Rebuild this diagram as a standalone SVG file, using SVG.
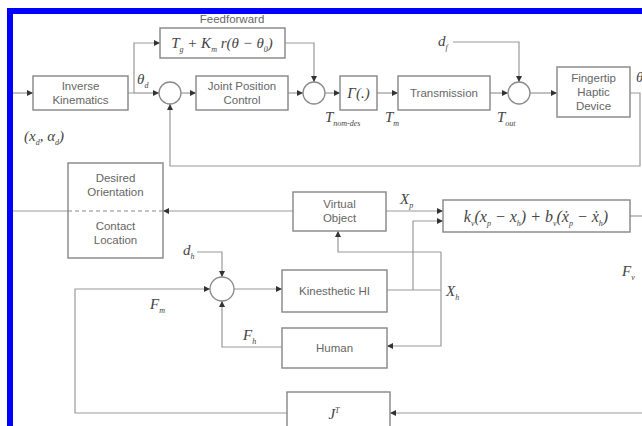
<svg xmlns="http://www.w3.org/2000/svg" width="642" height="426" viewBox="0 0 642 426">
<defs>
<marker id="ar" markerUnits="userSpaceOnUse" markerWidth="7" markerHeight="7" refX="6" refY="3" orient="auto">
<path d="M0,0 L6,3 L0,6 z" fill="#333"/>
</marker>
<style>
.box{fill:#fff;stroke:#858585;stroke-width:1.4}
.sum{fill:#fff;stroke:#8a8a8a;stroke-width:1.3}
.ln{fill:none;stroke:#999;stroke-width:1.2}
.la{fill:none;stroke:#999;stroke-width:1.2;marker-end:url(#ar)}
.t{font-family:"Liberation Sans",Arial,sans-serif;font-size:11.5px;fill:#666;text-anchor:middle}
.m{font-family:"Liberation Serif","Times New Roman",serif;font-style:italic;font-size:15px;fill:#444}
.s{font-size:8px}
</style>
</defs>
<rect width="642" height="426" fill="#fff"/>
<path d="M10,426 V11 H642" fill="none" stroke="#0000ff" stroke-width="6"/>

<g id="connectors">
<path class="la" d="M13,93 H33"/>
<path class="la" d="M128,93 H134 V43 H160"/>
<path class="la" d="M134,93 H159"/>
<path class="la" d="M181,93 H196"/>
<path class="la" d="M288,93 H303"/>
<path class="la" d="M285,43 H314 V82"/>
<path class="la" d="M325,93 H340"/>
<path class="la" d="M377,93 H398"/>
<path class="la" d="M490,93 H508"/>
<path class="la" d="M453,42 H519 V82"/>
<path class="la" d="M530,93 H557"/>
<path class="la" d="M630,93 H640 V166 H170 V104"/>
<path class="ln" d="M13,211 H68"/>
<path class="la" d="M293,211 H163"/>
<path class="la" d="M386,211 H443"/>
<path class="ln" d="M387,290 H441"/>
<path class="la" d="M413,290 V221 H443"/>
<path class="la" d="M441,252 V346 H387"/>
<path class="la" d="M441,252 H338 V231"/>
<path class="ln" d="M630,216 H642"/>
<path class="la" d="M642,413 H390"/>
<path class="la" d="M287,413 H75 V289 H210"/>
<path class="la" d="M234,289 H282"/>
<path class="la" d="M282,347 H222 V301"/>
<path class="la" d="M197,252 H222 V277"/>
</g>

<g id="inverse-kinematics">
<rect class="box" x="33" y="76" width="95" height="34"/>
<text class="t" x="80.5" y="90">Inverse</text>
<text class="t" x="80.5" y="104">Kinematics</text>
</g>
<g id="feedforward">
<text class="t" x="232" y="23">Feedforward</text>
<rect class="box" x="160" y="28" width="125" height="30"/>
<text class="m" x="222" y="48" text-anchor="middle">T<tspan class="s" dy="4">g</tspan><tspan dy="-4"> + K</tspan><tspan class="s" dy="4">m</tspan><tspan dy="-4"> r(θ − θ</tspan><tspan class="s" dy="4">0</tspan><tspan dy="-4">)</tspan></text>
</g>
<g id="sum1"><circle class="sum" cx="170" cy="93" r="11"/></g>
<g id="joint-position-control">
<rect class="box" x="196" y="76" width="92" height="34"/>
<text class="t" x="242" y="90">Joint Position</text>
<text class="t" x="242" y="104">Control</text>
</g>
<g id="sum2"><circle class="sum" cx="314" cy="93" r="11"/></g>
<g id="gamma">
<rect class="box" x="340" y="76" width="37" height="34"/>
<text class="m" x="358.5" y="98" text-anchor="middle">Γ(.)</text>
</g>
<g id="transmission">
<rect class="box" x="398" y="76" width="92" height="34"/>
<text class="t" x="444" y="97">Transmission</text>
</g>
<g id="sum3"><circle class="sum" cx="519" cy="93" r="11"/></g>
<g id="fingertip-haptic-device">
<rect class="box" x="557" y="67" width="73" height="50"/>
<text class="t" x="593.5" y="82">Fingertip</text>
<text class="t" x="593.5" y="96">Haptic</text>
<text class="t" x="593.5" y="110">Device</text>
</g>
<g id="desired-orientation-contact-location">
<rect class="box" x="68" y="163" width="95" height="95"/>
<path d="M68,211 H163" fill="none" stroke="#888" stroke-width="1.2" stroke-dasharray="4,3"/>
<text class="t" x="115.5" y="182">Desired</text>
<text class="t" x="115.5" y="196">Orientation</text>
<text class="t" x="115.5" y="230">Contact</text>
<text class="t" x="115.5" y="244">Location</text>
</g>
<g id="virtual-object">
<rect class="box" x="293" y="192" width="93" height="39"/>
<text class="t" x="339.5" y="208">Virtual</text>
<text class="t" x="339.5" y="222">Object</text>
</g>
<g id="impedance">
<rect class="box" x="443" y="200" width="187" height="32"/>
<text class="m" x="536" y="222" text-anchor="middle" style="font-size:16px">k<tspan class="s" dy="4">v</tspan><tspan dy="-4">(x</tspan><tspan class="s" dy="4">p</tspan><tspan dy="-4"> − x</tspan><tspan class="s" dy="4">h</tspan><tspan dy="-4">) + b</tspan><tspan class="s" dy="4">v</tspan><tspan dy="-4">(ẋ</tspan><tspan class="s" dy="4">p</tspan><tspan dy="-4"> − ẋ</tspan><tspan class="s" dy="4">h</tspan><tspan dy="-4">)</tspan></text>
</g>
<g id="sum4"><circle class="sum" cx="222" cy="289" r="12"/></g>
<g id="kinesthetic-hi">
<rect class="box" x="282" y="270" width="105" height="42"/>
<text class="t" x="334.5" y="295">Kinesthetic HI</text>
</g>
<g id="human">
<rect class="box" x="282" y="328" width="105" height="40"/>
<text class="t" x="334.5" y="352">Human</text>
</g>
<g id="jt">
<rect class="box" x="287" y="392" width="103" height="40"/>
<text class="m" x="334" y="419" text-anchor="middle">J<tspan class="s" dy="-6">T</tspan></text>
</g>

<g id="labels">
<text class="m" x="137" y="84">θ<tspan class="s" dy="4">d</tspan></text>
<text class="m" x="24" y="141">(x<tspan class="s" dy="4">d</tspan><tspan dy="-4">, α</tspan><tspan class="s" dy="4">d</tspan><tspan dy="-4">)</tspan></text>
<text class="m" x="325" y="122">T<tspan class="s" dy="4">nom-des</tspan></text>
<text class="m" x="385" y="122">T<tspan class="s" dy="4">m</tspan></text>
<text class="m" x="497" y="122">T<tspan class="s" dy="4">out</tspan></text>
<text class="m" x="438" y="46">d<tspan class="s" dy="4">f</tspan></text>
<text class="m" x="636" y="82">θ</text>
<text class="m" x="400" y="204">X<tspan class="s" dy="4">p</tspan></text>
<text class="m" x="622" y="276">F<tspan class="s" dy="4">v</tspan></text>
<text class="m" x="183" y="255">d<tspan class="s" dy="4">h</tspan></text>
<text class="m" x="150" y="309">F<tspan class="s" dy="4">m</tspan></text>
<text class="m" x="243" y="340">F<tspan class="s" dy="4">h</tspan></text>
<text class="m" x="446" y="296">X<tspan class="s" dy="4">h</tspan></text>
</g>
</svg>
